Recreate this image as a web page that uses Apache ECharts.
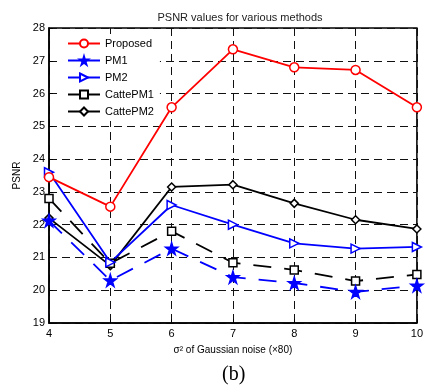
<!DOCTYPE html>
<html>
<head>
<meta charset="utf-8">
<script src="https://cdn.jsdelivr.net/npm/echarts@6/dist/echarts.min.js"></script>
<style>html,body{margin:0;padding:0;background:#fff}#c{width:426px;height:392px}</style>
</head>
<body>
<div id="c"></div>
<script>
const xValues = [4, 5, 6, 7, 8, 9, 10];
const proposed = [23.45, 22.55, 25.58, 27.35, 26.8, 26.72, 25.58];
const pm1 = [22.12, 20.3, 21.27, 20.4, 20.22, 19.95, 20.14];
const pm2 = [23.6, 20.85, 22.6, 22.0, 21.43, 21.27, 21.32];
const cattePM1 = [22.8, 20.82, 21.8, 20.84, 20.62, 20.28, 20.48];
const cattePM2 = [22.2, 20.75, 23.15, 23.22, 22.65, 22.15, 21.87];
const yTicks = [19, 20, 21, 22, 23, 24, 25, 26, 27, 28];

const starPath = 'path://M50,0 L61,35 L98,35 L68,57 L79,91 L50,70 L21,91 L32,57 L2,35 L39,35 Z';
const triRight = 'path://M0,0 L10,5 L0,10 Z';
const dash = [18, 13];

function mk(name, vals, color, symbol, size, lineType, filled) {
  return {
    name: name, type: 'line',
    data: xValues.map((x, i) => [x, vals[i]]),
    symbol: symbol, symbolSize: size,
    showSymbol: true,
    lineStyle: { color: color, width: 1.8, type: lineType },
    itemStyle: { color: filled ? color : '#fff', borderColor: color, borderWidth: 1.5 },
    emphasis: { disabled: true },
    animation: false
  };
}

const chart = echarts.init(document.getElementById('c'));
chart.setOption({
  animation: false,
  backgroundColor: '#fff',
  title: {
    text: 'PSNR values for various methods',
    left: 235, top: 7, textAlign: 'center',
    textStyle: { fontFamily: 'Liberation Sans', fontSize: 11, fontWeight: 'normal', color: '#222' }
  },
  grid: { left: 49, right: 5, top: 28, bottom: 69, show: true, borderColor: '#000', borderWidth: 1.5, backgroundColor: 'transparent' },
  legend: {
    orient: 'vertical', left: 61, top: 34,
    backgroundColor: '#fff', padding: [4, 6, 4, 6],
    itemWidth: 32, itemHeight: 10, itemGap: 6,
    textStyle: { fontFamily: 'Liberation Sans', fontSize: 11, color: '#000' },
    data: [
      { name: 'Proposed' },
      { name: 'PM1', lineStyle: { type: 'solid' } },
      { name: 'PM2' },
      { name: 'CattePM1', lineStyle: { type: 'solid' } },
      { name: 'CattePM2' }
    ]
  },
  xAxis: {
    type: 'value', min: 4, max: 10, interval: 1,
    name: 'σ² of Gaussian noise (×80)', nameLocation: 'middle', nameGap: 22,
    nameTextStyle: { fontFamily: 'Liberation Sans', fontSize: 10, color: '#000' },
    axisLine: { lineStyle: { color: '#000', width: 1.5 } },
    axisTick: { inside: true, length: 4, lineStyle: { color: '#000' } },
    axisLabel: { fontFamily: 'Liberation Sans', fontSize: 11, color: '#000', margin: 5 },
    splitLine: { show: true, lineStyle: { color: '#111', type: [8, 5], width: 1 } }
  },
  yAxis: {
    type: 'value', min: 19, max: 28, interval: 1,
    name: 'PSNR', nameLocation: 'middle', nameGap: 23, nameRotate: 90,
    nameTextStyle: { fontFamily: 'Liberation Sans', fontSize: 10, color: '#000' },
    axisLine: { show: true, lineStyle: { color: '#000', width: 1.5 } },
    axisTick: { show: true, inside: true, length: 4, lineStyle: { color: '#000' } },
    axisLabel: { fontFamily: 'Liberation Sans', fontSize: 11, color: '#000', margin: 4,
      formatter: v => (yTicks.indexOf(v) >= 0 ? String(v) : '') },
    splitLine: { show: true, lineStyle: { color: '#111', type: [8, 5], width: 1 } }
  },
  graphic: [{
    type: 'text', left: 222, top: 365,
    style: { text: '(b)', font: '20px "Liberation Serif"', fill: '#000' }
  }],
  series: [
    mk('CattePM2', cattePM2, '#000', 'diamond', 8, 'solid', false),
    mk('CattePM1', cattePM1, '#000', 'rect', 8, dash, false),
    mk('PM2', pm2, '#0000ff', triRight, 9, 'solid', false),
    mk('PM1', pm1, '#0000ff', starPath, 12, dash, true),
    mk('Proposed', proposed, '#ff0000', 'circle', 9, 'solid', false)
  ]
});
</script>
</body>
</html>
